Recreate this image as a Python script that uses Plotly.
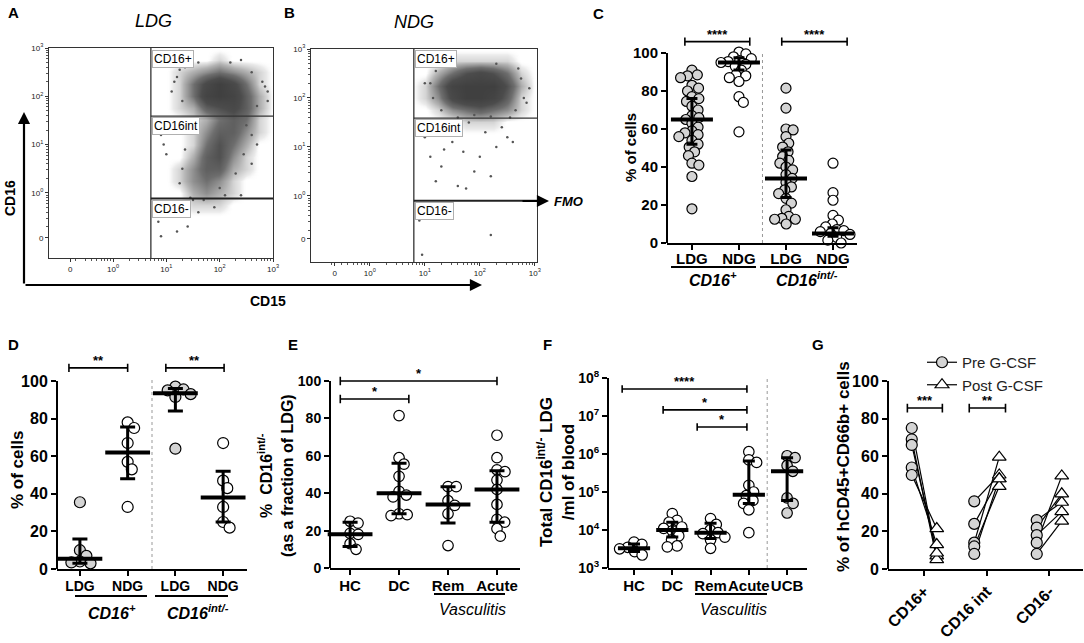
import numpy as np
import plotly.graph_objects as go

W, H = 1084, 643
FONT = "Liberation Sans, Arial, sans-serif"


def fx(p):
    return p / W


def fy(p):
    return 1 - p / H


# ---------------- data ----------------
# flow panels: density grid (decade units), rows listed top (3.0) to bottom (-1.25)
flow_x = [0.75, 1.0, 1.25, 1.5, 1.75, 2.0, 2.25, 2.5, 2.75, 3.0]
flow_y = [3.0 - 0.25 * k for k in range(18)]
ldg_density = [
    [0, 0, 0, 0, 0, 0, 0, 0, 0, 0],
    [0, 0, 0, 0, 0, 1, 0, 0, 0, 0],
    [0, 0, 1, 2, 3, 4, 3, 2, 1, 0],
    [0, 0, 1, 4, 7, 9, 7, 4, 1, 0],
    [0, 0, 1, 4, 8, 9, 8, 5, 2, 0],
    [0, 0, 1, 2, 5, 6, 7, 5, 2, 0],
    [0, 0, 0, 1, 2, 4, 5, 4, 1, 0],
    [0, 0, 0, 1, 3, 5, 5, 3, 1, 0],
    [0, 0, 0, 1, 4, 6, 4, 2, 0, 0],
    [0, 0, 0, 2, 5, 6, 3, 1, 0, 0],
    [0, 0, 1, 3, 5, 5, 2, 1, 0, 0],
    [0, 0, 1, 3, 4, 3, 1, 0, 0, 0],
    [0, 0, 0, 2, 3, 2, 1, 0, 0, 0],
    [0, 0, 0, 1, 1, 1, 0, 0, 0, 0],
    [0, 0, 0, 0, 0, 0, 0, 0, 0, 0],
    [0, 0, 0, 0, 0, 0, 0, 0, 0, 0],
    [0, 0, 0, 0, 0, 0, 0, 0, 0, 0],
    [0, 0, 0, 0, 0, 0, 0, 0, 0, 0],
]
ndg_density = [
    [0, 0, 0, 0, 0, 0, 0, 0, 0, 0],
    [0, 0, 0, 1, 1, 1, 1, 1, 0, 0],
    [0, 0, 2, 4, 6, 7, 6, 4, 1, 0],
    [0, 1, 4, 8, 9, 9, 9, 6, 2, 0],
    [0, 1, 3, 7, 9, 9, 8, 5, 1, 0],
    [0, 0, 1, 3, 4, 5, 4, 3, 1, 0],
    [0, 0, 0, 0, 1, 1, 1, 0, 0, 0],
] + [[0] * 10 for _ in range(11)]
# scattered single events (decade units)
ldg_sparse_x = [0.9, 1.0, 0.85, 0.9, 1.2, 1.6, 1.9, 1.4, 2.2, 0.95, 1.1, 2.7, 2.6, 1.3, 2.9,
                1.15, 1.25, 2.85, 1.5, 2.4, 1.2, 1.3, 1.35, 2.6, 2.7, 2.8, 1.6, 2.4, 1.1, 2.9,
                1.3, 1.35, 1.5, 2.5, 2.6, 2.45, 2.3, 1.25, 1.45, 2.1, 1.7, 2.0]
ldg_sparse_y = [1.2, 0.8, -0.6, -0.9, -0.8, -0.4, -0.3, -0.7, 2.7, 1.0, 1.3, 1.0, 0.6, -0.2, 1.9,
                2.3, 2.55, 2.2, -0.15, -0.05, 2.4, 1.9, 2.6, 2.5, 1.8, 2.3, 2.7, 2.75, 2.1, 2.1,
                0.5, 0.9, 1.3, 1.4, 1.2, 0.8, 0.4, 0.2, -0.1, -0.05, -0.15, 0.1]
ndg_sparse_x = [1.0, 1.1, 1.3, 1.2, 1.5, 1.7, 1.9, 2.1, 2.3, 1.6, 2.0, 2.4, 1.4, 1.8, 2.2,
                1.05, 2.5, 1.35, 0.9, 2.2, 0.95, 2.6, 1.75, 2.7, 1.0, 2.85, 1.1, 1.15, 1.2,
                2.75, 2.8, 2.65, 1.3, 1.5, 2.3, 2.9, 2.55, 1.9, 1.6, 2.2]
ndg_sparse_y = [1.2, 0.8, 0.6, 0.3, 1.1, 0.9, 0.5, 1.3, 1.0, 0.2, 0.8, 1.4, 1.4, 1.5, 0.4,
                1.45, 1.2, 0.95, -0.5, -0.8, -1.2, 1.1, 0.15, 2.6, 2.3, 1.9, 2.3, 2.0, 2.55,
                2.4, 2.0, 1.75, 1.75, 2.65, 2.7, 2.2, 1.6, 1.65, 1.6, 1.62]

# panel C
c_cats = ["LDG", "NDG", "LDG", "NDG"]
c_vals = [
    [91, 88.5, 88, 87, 83, 81.5, 80, 77, 76, 74.5, 72, 70, 67, 66, 65, 63, 61, 59, 58, 57,
     56, 54, 52, 50.5, 48, 46, 42, 41, 35, 18],
    [100.5, 99.5, 98, 97, 96, 95.5, 95, 94, 93, 91, 88.5, 88, 87, 85, 77, 74, 58.5],
    [81.5, 71, 60, 59.5, 56, 52.5, 50.5, 48, 45.5, 43.5, 42, 40, 38.5, 36, 34, 32, 29.5,
     28, 26, 23.5, 21, 17.5, 14, 13, 12.5, 12.5, 10],
    [42, 26.5, 22.5, 14.5, 12, 10, 8.5, 7, 6.5, 6, 5, 4.5, 3, 1.5, 0],
]
c_med = [65, 95, 34, 5]
c_lo = [52, 91, 24, 3.5]
c_hi = [76, 97.5, 49, 8]

# panel D
d_cats = ["LDG", "NDG", "LDG", "NDG"]
d_vals = [
    [35.5, 10, 7, 4, 3.5, 3],
    [78, 75, 67, 57, 53, 33],
    [97, 95.5, 95, 93, 91.5, 64],
    [67, 47, 43, 33, 25, 22],
]
d_med = [5.5, 62, 93.5, 38]
d_lo = [3, 48, 84, 25]
d_hi = [16, 75.5, 96, 52]

# panel E
e_cats = ["HC", "DC", "Rem", "Acute"]
e_vals = [
    [25, 24, 18.5, 18, 13, 10],
    [81.5, 59, 55.5, 49, 41, 39, 38, 29, 28.5, 28],
    [43.5, 43.5, 36, 33.5, 29, 12],
    [71, 59, 52.5, 51.5, 47, 42, 34, 26, 24.5, 21, 17],
]
e_med = [18, 40, 34, 42]
e_lo = [11.5, 29, 24, 24.5]
e_hi = [24.5, 56, 43.5, 52]

# panel F
f_cats = ["HC", "DC", "Rem", "Acute", "UCB"]
f_vals = [
    [4800, 4200, 3500, 3200, 2700, 2200],
    [27000, 18000, 16000, 12000, 11000, 9500, 7000, 5500, 3800, 3600],
    [20000, 14000, 10000, 8500, 8000, 6500, 5500, 3300],
    [1150000, 700000, 600000, 150000, 100000, 80000, 60000, 50000, 34000, 8500],
    [900000, 800000, 500000, 350000, 70000, 50000, 28000],
]
f_med = [3300, 10000, 8500, 85000, 350000]
f_lo = [2700, 6500, 6000, 50000, 60000]
f_hi = [4300, 16000, 15000, 650000, 800000]

# panel G
g_cats = ["CD16+", "CD16 int", "CD16-"]
g_pre = [[75, 69, 66, 54, 50], [36, 24, 14, 12, 8], [26, 22, 18, 14, 8]]
g_post = [[7, 5, 8.5, 13, 21.5], [50, 48, 59.5, 44, 48], [35.5, 40, 30.5, 49.5, 25.5]]

# significance brackets: (x start, x end, height, label)
c_sig = [(-0.15, 1.23, 106, "****"), (1.91, 3.3, 106, "****")]
d_sig = [(-0.23, 1.0, 107, "**"), (1.8, 3.02, 107, "**")]
e_sig = [(-0.2, 3.0, 100, "*"), (-0.2, 1.2, 90.4, "*")]
f_sig = [(-0.31, 2.95, 10 ** 7.71, "****"), (0.76, 2.95, 10 ** 7.16, "*"), (1.65, 2.95, 10 ** 6.71, "*")]
g_sig = [(-0.27, 0.29, 85.6, "***"), (0.72, 1.3, 85.6, "**")]

GRAY = "#d4d4d4"


def swarm(vals, ppu, ppc, d, log=False):
    ys = [(np.log10(v) if log else v) * ppu for v in vals]
    order = sorted(range(len(vals)), key=lambda i: -ys[i])
    placed = []
    xs = [0.0] * len(vals)
    for i in order:
        y = ys[i]
        cands = [0.0]
        for px_, py_ in placed:
            dy = abs(py_ - y)
            if dy < d:
                dx = (d * d - dy * dy) ** 0.5
                cands += [px_ + dx, px_ - dx]
        cands.sort(key=abs)
        for c in cands:
            if all((c - px_) ** 2 + (y - py_) ** 2 >= d * d - 1e-6 for px_, py_ in placed):
                xs[i] = c
                break
        placed.append((xs[i], y))
    return [x / ppc for x in xs]


fig = go.Figure()
ann = []
shapes = []


def txt(x, y, s, size, **kw):
    d = dict(x=fx(x), y=fy(y), xref="paper", yref="paper", text=s, showarrow=False,
             xanchor="center", yanchor="middle",
             font=dict(family=FONT, size=size, color="black"))
    d.update(kw)
    ann.append(d)


def hline(x0, x1, y, w=2):
    shapes.append(dict(type="line", xref="paper", yref="paper", x0=fx(x0), x1=fx(x1),
                       y0=fy(y), y1=fy(y), line=dict(color="black", width=w)))


# ---------------- flow panels A, B ----------------
flow_specs = [
    ("x", "y", ldg_density, ldg_sparse_x, ldg_sparse_y, 0.71, 1.59, -0.12),
    ("x2", "y2", ndg_density, ndg_sparse_x, ndg_sparse_y, 0.8, 1.59, -0.1),
]
for xa, ya, dens, sx, sy, gx, gy1, gy2 in flow_specs:
    fig.add_trace(go.Heatmap(
        x=flow_x, y=flow_y[::-1], z=dens[::-1], zmin=0, zmax=9, zsmooth="best",
        colorscale=[[0, "rgba(255,255,255,0)"], [0.05, "rgba(236,236,236,1)"],
                    [0.2, "#b4b4b4"], [0.45, "#6e6e6e"], [0.7, "#4c4c4c"], [1, "#404040"]],
        showscale=False, hoverinfo="skip", xaxis=xa, yaxis=ya))
    fig.add_trace(go.Scatter(x=sx, y=sy, mode="markers", xaxis=xa, yaxis=ya,
                             marker=dict(size=2.5, color="#555"), showlegend=False,
                             hoverinfo="skip"))
    shapes.append(dict(type="line", xref=xa, yref=ya, x0=gx, x1=gx, y0=-1.35, y1=3.0,
                       line=dict(color="#333", width=1.3)))
    shapes.append(dict(type="line", xref=xa, yref=ya, x0=gx, x1=3.1, y0=gy1, y1=gy1,
                       line=dict(color="#333", width=1.3)))
    shapes.append(dict(type="line", xref=xa, yref=ya, x0=gx, x1=3.1, y0=gy2, y1=gy2,
                       line=dict(color="#222", width=2)))

minor_vals = [d + np.log10(k) for d in [-1, 0, 1, 2] for k in range(2, 10)]
flow_axes = [
    ("xaxis", "yaxis", [49, 273], [48, 258], [-1.2, 3.0], -0.8, -0.93, "y", "x"),
    ("xaxis2", "yaxis2", [311, 537], [49, 262], [-1.07, 3.04], -0.64, -0.88, "y2", "x2"),
]
tick_txt = ["0", "10<sup>0</sup>", "10<sup>1</sup>", "10<sup>2</sup>", "10<sup>3</sup>"]
for xn, yn, xd, yd, xr, x0t, y0t, anc_x, anc_y in flow_axes:
    common = dict(showline=True, mirror=True, linecolor="#333", linewidth=1, showgrid=False,
                  zeroline=False, ticks="outside", ticklen=3, tickcolor="#333",
                  automargin=False, tickangle=0,
                  tickfont=dict(family=FONT, size=8, color="#222"),
                  minor=dict(tickmode="array", tickvals=minor_vals, ticks="outside",
                             ticklen=2, tickcolor="#555"))
    fig.update_layout({
        xn: dict(domain=[fx(xd[0]), fx(xd[1])], range=xr, anchor=anc_x,
                 tickmode="array", tickvals=[x0t, 0, 1, 2, 3], ticktext=tick_txt, **common),
        yn: dict(domain=[fy(yd[1]), fy(yd[0])], range=[-1.35, 3.0], anchor=anc_y,
                 tickmode="array", tickvals=[y0t, 0, 1, 2, 3], ticktext=tick_txt, **common),
    })

gate_box = dict(bordercolor="#b0b0b0", borderwidth=1, borderpad=1, bgcolor="white",
                xanchor="left", yanchor="top")
for gx0, tops in [(152, [50, 117, 200]), (415, [50, 119, 202])]:
    for t, lab in zip(tops, ["CD16+", "CD16int", "CD16-"]):
        txt(gx0, t, lab, 12, **gate_box)

txt(153, 21, "<i>LDG</i>", 18)
txt(414, 22, "<i>NDG</i>", 18)
txt(10, 198, "<b>CD16</b>", 14, textangle=-90)
txt(268, 301, "<b>CD15</b>", 14)
# big axis arrows
ann.append(dict(x=fx(24), y=fy(112), ax=0, ay=173, xref="paper", yref="paper", text="",
                showarrow=True, arrowhead=2, arrowsize=1.1, arrowwidth=2.2, arrowcolor="black"))
ann.append(dict(x=fx(482), y=fy(285), ax=-458, ay=0, xref="paper", yref="paper", text="",
                showarrow=True, arrowhead=2, arrowsize=1.1, arrowwidth=2.2, arrowcolor="black"))
ann.append(dict(x=fx(549), y=fy(201), ax=-28, ay=0, xref="paper", yref="paper", text="",
                showarrow=True, arrowhead=2, arrowsize=1.1, arrowwidth=2.2, arrowcolor="black"))
txt(552, 201, "<b><i>FMO</i></b>", 13, xanchor="left")


# ---------------- dot plots C-G ----------------
def dot_axes(n, xd, y0px, y100px, xr, top, cats, tick_size, xlab_size, log=False, yd=None,
             standoff=0):
    xn, yn = "xaxis%d" % n, "yaxis%d" % n
    if log:
        ydom = [fy(yd[1]), fy(yd[0])]
        yax = dict(type="log", range=[3, 8], tickmode="array",
                   tickvals=[10 ** k for k in range(3, 9)],
                   ticktext=["<b>10<sup>%d</sup></b>" % k for k in range(3, 9)])
    else:
        ppu = (y0px - y100px) / 100
        ydom = [fy(y0px), fy(y0px - top * ppu)]
        yax = dict(range=[0, top], tickmode="array", tickvals=[0, 20, 40, 60, 80, 100],
                   ticktext=["<b>%d</b>" % v for v in [0, 20, 40, 60, 80, 100]])
    fig.update_layout({
        xn: dict(domain=[fx(xd[0]), fx(xd[1])], range=xr, anchor="y%d" % n, showline=True,
                 linewidth=2, linecolor="black", showgrid=False, zeroline=False,
                 ticks="outside", ticklen=5, tickwidth=2, tickcolor="black",
                 automargin=False, tickangle=0, ticklabelstandoff=standoff,
                 tickmode="array", tickvals=list(range(len(cats))),
                 ticktext=["<b>%s</b>" % c for c in cats],
                 tickfont=dict(family=FONT, size=xlab_size, color="black")),
        yn: dict(domain=ydom, anchor="x%d" % n, showline=False, showgrid=False,
                 zeroline=False, ticks="outside", ticklen=5, tickwidth=2, tickcolor="black",
                 automargin=False,
                 tickfont=dict(family=FONT, size=tick_size, color="black"), **yax),
    })
    if log:
        shapes.append(dict(type="line", xref="x%d domain" % n, yref="y%d domain" % n,
                           x0=0, x1=0, y0=0, y1=1, line=dict(color="black", width=2)))
    else:
        shapes.append(dict(type="line", xref="x%d domain" % n, yref="y%d" % n,
                           x0=0, x1=0, y0=0, y1=100, line=dict(color="black", width=2)))


def dots(n, vals, fills, ppu, ppc, size, log=False, pack=0.78):
    for i, (v, fc) in enumerate(zip(vals, fills)):
        off = swarm(v, ppu, ppc, size * pack, log=log)
        fig.add_trace(go.Scatter(
            x=[i + o for o in off], y=v, mode="markers", xaxis="x%d" % n, yaxis="y%d" % n,
            marker=dict(symbol="circle", size=size, color=fc, line=dict(color="black", width=1.2)),
            cliponaxis=False, showlegend=False, hoverinfo="skip"))


def summary(n, med, lo, hi, medw, capw):
    fig.add_trace(go.Scatter(
        x=list(range(len(med))), y=med, mode="markers", xaxis="x%d" % n, yaxis="y%d" % n,
        marker=dict(symbol="line-ew", size=medw, color="black", line=dict(color="black", width=4)),
        error_y=dict(type="data", symmetric=False, array=[h - m for h, m in zip(hi, med)],
                     arrayminus=[m - l for m, l in zip(med, lo)], color="black",
                     thickness=3, width=capw),
        cliponaxis=False, showlegend=False, hoverinfo="skip"))


def sig(n, specs, cap, log=False, size=13):
    for x0, x1, y, lab in specs:
        if log:
            lo_, hi_ = y / cap, y * cap
        else:
            lo_, hi_ = y - cap, y + cap
        fig.add_trace(go.Scatter(
            x=[x0, x0, x0, x1, x1, x1], y=[lo_, hi_, y, y, hi_, lo_], mode="lines",
            xaxis="x%d" % n, yaxis="y%d" % n, line=dict(color="black", width=1.6),
            showlegend=False, hoverinfo="skip"))
        ann.append(dict(x=(x0 + x1) / 2, y=np.log10(y) if log else y, xref="x%d" % n,
                        yref="y%d" % n, text="<b>%s</b>" % lab, showarrow=False,
                        xanchor="center", yanchor="bottom", yshift=-2,
                        font=dict(family=FONT, size=size, color="black")))


def separator(n, x, log=False):
    if log:
        shapes.append(dict(type="line", xref="x%d" % n, yref="y%d domain" % n, x0=x, x1=x,
                           y0=0, y1=1, line=dict(color="#999", width=1, dash="dot")))
    else:
        shapes.append(dict(type="line", xref="x%d" % n, yref="y%d" % n, x0=x, x1=x,
                           y0=0, y1=101, line=dict(color="#999", width=1, dash="dot")))


# C
dot_axes(3, [667, 857], 243, 53, [-0.53, 3.51], 112, c_cats, 15, 15, standoff=-4)
dots(3, c_vals, [GRAY, "white", GRAY, "white"], 1.9, 47, 10, pack=0.72)
summary(3, c_med, c_lo, c_hi, 30, 5.5)
sig(3, c_sig, 2.2)
separator(3, 1.5)
hline(671, 756, 267)
hline(760, 847, 267)
txt(713, 279, "<b><i>CD16<sup>+</sup></i></b>", 16)
txt(807, 279, "<b><i>CD16<sup>int/-</sup></i></b>", 16)
txt(630, 148, "<b>% of cells</b>", 15, textangle=-90)

# D
dot_axes(4, [57, 247], 569, 381, [-0.48, 3.5], 112, d_cats, 16, 14, standoff=-2)
dots(4, d_vals, [GRAY, "white", GRAY, "white"], 1.88, 47.7, 11)
summary(4, d_med, d_lo, d_hi, 32, 7.5)
sig(4, d_sig, 2.2)
separator(4, 1.51)
hline(75, 147, 596)
hline(155, 228, 596)
txt(112, 612, "<b><i>CD16<sup>+</sup></i></b>", 16)
txt(198, 612, "<b><i>CD16<sup>int/-</sup></i></b>", 16)
txt(17, 470, "<b>% of cells</b>", 17, textangle=-90)

# E
dot_axes(5, [330, 520], 568, 381, [-0.41, 3.47], 104, e_cats, 14, 15, standoff=-2)
dots(5, e_vals, ["white"] * 4, 1.87, 49, 10.5)
summary(5, e_med, e_lo, e_hi, 32, 7.5)
sig(5, e_sig, 2.3)
hline(434, 505, 594)
txt(472, 609, "<i>Vasculitis</i>", 16)
txt(275, 476, "<b>%  CD16<sup>int/-</sup><br>(as a fraction of LDG)</b>", 16, textangle=-90)

# F
dot_axes(6, [608, 807], 0, 0, [-0.68, 4.52], 0, f_cats, 14, 15, log=True, yd=[378, 568],
         standoff=-2)
dots(6, f_vals, ["white"] * 4 + [GRAY], 38, 38.25, 10.5, log=True)
summary(6, f_med, f_lo, f_hi, 23, 6)
sig(6, f_sig, 10 ** 0.1, log=True)
separator(6, 3.48, log=True)
hline(695, 767, 594)
txt(733, 609, "<i>Vasculitis</i>", 16)
txt(556, 472, "<b>Total CD16<sup>int/-</sup> LDG<br>/ml of blood</b>", 17, textangle=-90)

# G
dot_axes(7, [888, 1083], 569, 381, [-0.58, 2.54], 100, g_cats, 16, 16)
fig.layout.xaxis7.tickangle = -45
lx, ly = [], []
for i in range(len(g_cats)):
    for a, b in zip(g_pre[i], g_post[i]):
        lx += [i - 0.2, i + 0.2, None]
        ly += [a, b, None]
fig.add_trace(go.Scatter(x=lx, y=ly, mode="lines", xaxis="x7", yaxis="y7",
                         line=dict(color="black", width=1.2), showlegend=False,
                         hoverinfo="skip"))
for name, series, off, sym, fc in [("Pre G-CSF", g_pre, -0.2, "circle", GRAY),
                                   ("Post G-CSF", g_post, 0.2, "triangle-up", "white")]:
    px_, py_ = [], []
    for i in range(len(g_cats)):
        for v in series[i]:
            px_ += [i + off, None]
            py_ += [v, None]
    fig.add_trace(go.Scatter(x=px_, y=py_, mode="lines+markers", name=name, xaxis="x7",
                             yaxis="y7", connectgaps=False,
                             line=dict(color="black", width=1.2),
                             marker=dict(symbol=sym, size=11 if sym == "circle" else 12,
                                         color=fc, line=dict(color="black", width=1.2)),
                             cliponaxis=False, hoverinfo="skip"))
sig(7, g_sig, 2.3)
txt(843, 467, "<b>% of hCD45+CD66b+ cells</b>", 17, textangle=-90)

# panel letters
for lab, x, y in [("A", 13, 13), ("B", 289, 13), ("C", 598, 14), ("D", 13, 344),
                  ("E", 293, 344), ("F", 547, 344), ("G", 818, 344)]:
    txt(x, y, "<b>%s</b>" % lab, 15)

fig.update_layout(
    width=W, height=H, margin=dict(l=0, r=0, t=0, b=0, autoexpand=False),
    paper_bgcolor="white", plot_bgcolor="white",
    annotations=ann, shapes=shapes,
    legend=dict(x=fx(922), y=fy(346), xanchor="left", yanchor="top",
                font=dict(family=FONT, size=15, color="#222"), bgcolor="rgba(0,0,0,0)",
                tracegroupgap=0),
    font=dict(family=FONT),
)
# page body has a default 8px margin; remove it so the figure sits at the window origin
fig.write_html("out.html", config={"displayModeBar": False},
               post_script="document.body.style.margin='0px';")
